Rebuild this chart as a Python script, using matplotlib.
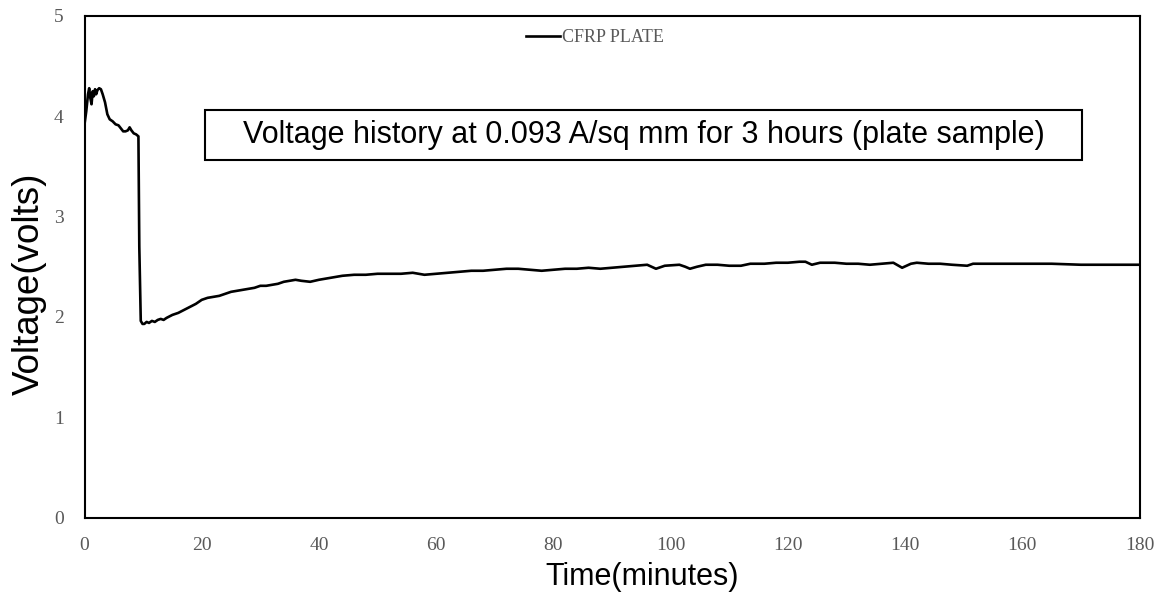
import matplotlib
matplotlib.use("Agg")
import matplotlib.pyplot as plt
from matplotlib.patches import Rectangle

# Elapsed time (minutes) and measured voltage (volts) for the CFRP plate
time_min = [
    0.0, 0.3, 0.6, 0.8, 1.0, 1.2, 1.4, 1.6, 1.8, 2.0, 2.2, 2.5, 2.8, 3.1, 3.5,
    3.9, 4.3, 4.8, 5.3, 5.8, 6.2, 6.6, 7.0, 7.4, 7.7, 8.0, 8.4, 8.8, 9.2, 9.35,
    9.6, 9.9, 10.2, 10.6, 11.0, 11.5, 12.0, 12.5, 13.0, 13.5, 14.0, 15.0, 16.0,
    17.0, 18.0, 19.0, 20.0, 21.0, 22.0, 23.0, 24.0, 25.0, 26.0, 27.0, 28.0,
    29.0, 30.0, 31.0, 32.0, 33.0, 34.0, 35.0, 36.0, 37.0, 38.5, 40.0, 42.0,
    44.0, 46.0, 48.0, 50.0, 52.0, 54.0, 56.0, 58.0, 60.0, 62.0, 64.0, 66.0,
    68.0, 70.0, 72.0, 74.0, 76.0, 78.0, 80.0, 82.0, 84.0, 86.0, 88.0, 90.0,
    92.0, 94.0, 96.0, 97.5, 99.0, 101.5, 102.5, 103.3, 104.5, 106.0, 108.0,
    110.0, 112.0, 113.6, 116.0, 118.0, 120.0, 122.0, 123.0, 124.1, 125.5,
    128.0, 130.0, 132.0, 134.0, 136.0, 138.0, 139.5, 141.0, 142.0, 144.0,
    146.0, 148.0, 150.6, 151.6, 154.0, 156.0, 158.0, 161.0, 165.0, 170.0,
    172.0, 176.0, 180.0,
]
voltage = [
    3.92, 4.05, 4.22, 4.28, 4.18, 4.12, 4.25, 4.20, 4.27, 4.22, 4.26, 4.28,
    4.27, 4.22, 4.14, 4.02, 3.97, 3.95, 3.92, 3.91, 3.88, 3.85, 3.85, 3.86,
    3.89, 3.86, 3.83, 3.82, 3.80, 2.70, 1.96, 1.93, 1.93, 1.95, 1.94, 1.96,
    1.95, 1.97, 1.98, 1.97, 1.99, 2.02, 2.04, 2.07, 2.10, 2.13, 2.17, 2.19,
    2.20, 2.21, 2.23, 2.25, 2.26, 2.27, 2.28, 2.29, 2.31, 2.31, 2.32, 2.33,
    2.35, 2.36, 2.37, 2.36, 2.35, 2.37, 2.39, 2.41, 2.42, 2.42, 2.43, 2.43,
    2.43, 2.44, 2.42, 2.43, 2.44, 2.45, 2.46, 2.46, 2.47, 2.48, 2.48, 2.47,
    2.46, 2.47, 2.48, 2.48, 2.49, 2.48, 2.49, 2.50, 2.51, 2.52, 2.48, 2.51,
    2.52, 2.50, 2.48, 2.50, 2.52, 2.52, 2.51, 2.51, 2.53, 2.53, 2.54, 2.54,
    2.55, 2.55, 2.52, 2.54, 2.54, 2.53, 2.53, 2.52, 2.53, 2.54, 2.49, 2.53,
    2.54, 2.53, 2.53, 2.52, 2.51, 2.53, 2.53, 2.53, 2.53, 2.53, 2.53, 2.52,
    2.52, 2.52, 2.52,
]

x_ticks = [0, 20, 40, 60, 80, 100, 120, 140, 160, 180]
y_ticks = [0, 1, 2, 3, 4, 5]
series_name = "CFRP PLATE"
title_text = "Voltage history at 0.093 A/sq mm for 3 hours (plate sample)"

fig = plt.figure(figsize=(11.63, 5.92), dpi=100)
W, H = 1163, 592
left, right, top, bottom = 84.5, 1139.5, 16.0, 517.5
ax = fig.add_axes([left / W, 1 - bottom / H, (right - left) / W, (bottom - top) / H])

ax.plot(time_min, voltage, color="black", lw=1.9, label=series_name,
        solid_joinstyle="round")

ax.set_xlim(0, 180)
ax.set_ylim(0, 5)
ax.set_xticks(x_ticks)
ax.set_yticks(y_ticks)

tick_font = dict(family="Liberation Serif", size=14, color="#595959")
ax.set_xticklabels([str(t) for t in x_ticks], **tick_font)
ax.set_yticklabels([str(t) for t in y_ticks], **tick_font)
ax.tick_params(axis="both", length=0)
ax.tick_params(axis="x", pad=14)
ax.tick_params(axis="y", pad=15)

for s in ax.spines.values():
    s.set_linewidth(1.5)
    s.set_color("black")

ax.set_xlabel("Time(minutes)", family="Liberation Sans", size=22, color="black")
ax.set_ylabel("Voltage(volts)", family="Liberation Sans", size=26.5, color="black")
ax.xaxis.set_label_coords((642 - left) / (right - left), -(577 - bottom) / (bottom - top))
ax.yaxis.set_label_coords(-(84.5 - 29) / (right - left), (bottom - 284) / (bottom - top))
ax.xaxis.label.set_va("center")
ax.yaxis.label.set_va("center")

# Boxed caption inside the plot area
bx0, bx1, by0, by1 = 205, 1082, 110, 160
ax.add_patch(Rectangle(((bx0 - left) / (right - left), (bottom - by1) / (bottom - top)),
                       (bx1 - bx0) / (right - left), (by1 - by0) / (bottom - top),
                       transform=ax.transAxes, fill=False, edgecolor="black",
                       lw=1.5, zorder=3))
ax.text(((bx0 + bx1) / 2 - left) / (right - left), (bottom - 135) / (bottom - top),
        title_text, transform=ax.transAxes, ha="center", va="center",
        family="Liberation Sans", size=22, color="black")

leg = ax.legend(loc="center", bbox_to_anchor=((595 - left) / (right - left),
                                               (bottom - 38) / (bottom - top)),
                frameon=False, handlelength=1.9, handletextpad=0.1,
                prop=dict(family="Liberation Serif", size=13))
for t in leg.get_texts():
    t.set_color("#595959")

fig.savefig("out.png", dpi=100)
